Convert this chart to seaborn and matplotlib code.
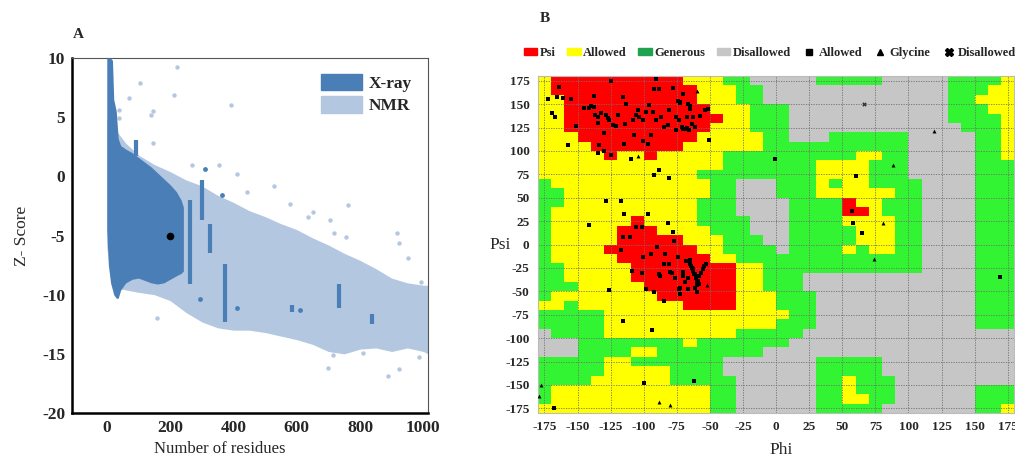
import numpy as np
import pandas as pd
import matplotlib
matplotlib.use("Agg")
import matplotlib.pyplot as plt
import seaborn as sns
from matplotlib.colors import ListedColormap
from matplotlib.patches import Patch
from matplotlib.lines import Line2D

# ---------------- Panel A data (ProSA Z-score plot) ----------------
xray_x = [0, 5, 12, 18, 22, 30, 36, 44, 60, 80, 100, 120, 140, 160, 180, 200, 220, 235, 242]
xray_upper = [10, 10, 10, 9.8, 6.5, 5.5, 3.2, 2.6, 2.3, 2.0, 1.6, 1.2, 0.8, 0.3, -0.2, -0.7, -1.3, -2.0, -2.6]
xray_lower = [-4.5, -7.5, -9.0, -9.6, -10.0, -10.3, -10.3, -9.6, -9.0, -8.7, -8.6, -8.8, -9.0, -9.1, -9.0, -8.7, -8.4, -8.2, -8.0]

nmr_x = [0, 10, 20, 40, 60, 100, 150, 200, 250, 300, 350, 400, 450, 500, 550, 600, 650,
         700, 750, 800, 850, 900, 950, 1000, 1015]
nmr_upper = [4.8, 4.8, 4.3, 3.5, 2.8, 1.8, 1.0, 0.4, -0.3, -0.8, -1.6, -2.2, -2.9, -3.4, -4.0,
             -4.5, -5.2, -5.8, -6.5, -7.1, -7.8, -8.6, -9.0, -9.2, -9.2]
nmr_lower = [-6.0, -8.0, -9.0, -9.5, -9.6, -9.8, -10.0, -10.5, -11.5, -12.3, -12.8, -13.0, -13.0,
             -13.2, -13.5, -13.8, -14.2, -14.8, -15.0, -14.6, -14.5, -14.8, -14.5, -14.8, -15.0]

streak_x = [91, 264, 300, 327, 372, 733, 838, 585]
streak_lo = [1.7, -9.1, -3.7, -6.5, -12.3, -11.1, -12.5, -11.5]
streak_hi = [3.1, -2.0, -0.3, -4.0, -7.4, -9.1, -11.6, -10.9]

xray_pts_x = [296, 410, 609, 311, 365]
xray_pts_z = [-10.4, -11.1, -11.3, 0.6, -1.6]

nmr_pts_x = [221, 104, 70, 212, 391, 147, 139, 39, 39, 146, 270, 354, 412, 443, 528, 578, 761,
             160, 887, 698, 716, 992, 953, 918, 923, 756, 719, 704, 636, 651, 988, 924, 808]
nmr_pts_z = [9.2, 7.9, 6.6, 6.9, 6.0, 5.5, 5.2, 5.6, 4.9, 2.85, 1.0, 1.0, 0.2, -1.3, -0.85, -2.3,
             -2.4, -12.0, -16.9, -16.2, -15.1, -8.9, -6.9, -4.8, -5.6, -5.1, -4.8, -3.7, -3.4,
             -3.0, -15.3, -16.3, -14.9]

model_x = [200]
model_z = [-5.0]

# ---------------- Panel B data (Ramachandran plot) ----------------
# 10-degree cells, rows from psi=180 (top) to psi=-180, columns phi=-180..180
# R = core, Y = allowed, G = generous, D = disallowed
rama_rows = [
    "YRRRRRRRRRRYYYGGDDDDDGGGGGDDDDDGGGGY",
    "YRRRRRRRRRRRYYYGGDDDDDDDDDDDDDDGGGYY",
    "YYRRRRRRRRRRYYYGGDDDDDDDDDDDDDDGGYYY",
    "YYRRRRRRRRRRRYYYGGGDDDDDDDDDDDDGGGYY",
    "YYRRRRRRRRRRRRYYGGGDDDDDDDDDDDDGGGGY",
    "YYRRRRRRRRRRRYYYGGGDDDDDDDDDDDDDGGGY",
    "YYYRRRRRRRRRYYYYYGGDDDGGGGGGDDDDDGGY",
    "YYYYRRRRRRRYYYYYYGGGGGGGGGGGDDDDDGGY",
    "YYYYYRYYRYYYYYGGGGGGGGGGYYGGDDDDDGGY",
    "YYYYYYYYYYYYYYGGGGGGGYYYYGGGDDDDDGGG",
    "YYYYYYYYYYYYGGGGGGGGGYYYYGGGDDDDDGGG",
    "GYYYYYYYYYYYYGGDDDGGGYGYYGGGGDDDDGGG",
    "GGYYYYYYYYYYYGGDDDGGGYYYYYYGGDDDDGGG",
    "GGYYYYYYYYYYGGGDDDDGGGGRYYGGGDDDDGGG",
    "GYYYYYYYYYYYGGGDDDDGGGGRRYGGGDDDDGGG",
    "GYYYYYYRYYYYGGGGDDDGGGGYYYYGGDDDDGGG",
    "GYYYYYRRRYYYYGGGDDDGGGGGYYYGGDDDDGGG",
    "GYYYYYRRRRRYYYGGGDDGGGGGYYYGGDDDDGGG",
    "GYYYYRRRRRRRYYGGGGDGGGGYGYYGGDDDDGGG",
    "GYYYYYRRRRRRRYYGGGGGGGGGGGGGGDDDDGGG",
    "GGYYYYYRRRRRRRRYYGGGGGGGGGGGGDDDDGGG",
    "GGYYYYYRRRRRRRRYYGGGDDDDDDDDDDDDDGGG",
    "GGGYYYYYRRRRRRRYYGGGDDDDDDDDDDDDDGGG",
    "GYYYYYYYYRRRRRRYYYGGGDDDDDDDDDDDDGGG",
    "YYGYYYYYYYYRRRRYYYGGGDDDDDDDDDDDDGGG",
    "GGGGGYYYYYYYYYYYYYYGGDDDDDDDDDDDDGGG",
    "GGGGGYYYYYYYYYYYYYGGGDDDDDDDDDDDDGGG",
    "DGGGGYYYYYYYYYYGGGGGDDDDDDDDDDDDDDDD",
    "DDDGGGGGGGGYGGGGGGGDDDDDDDDDDDDDDDDD",
    "DDDGGGGYYGGGGGGGGDDDDDDDDDDDDDDDDDDD",
    "GGGGGYYGGGGGGGDDDDDDDGGGGGDDDDDDDDDD",
    "GGGGGYYYYYGGGGDDDDDDDGGGGGDDDDDDDDDD",
    "GGGGYYYYYYGGGGGDDDDDDGGYGGGDDDDDDDDD",
    "GYYYYYYYYYYYYGGDDDDDDGGYGGGDDDDDDGGG",
    "GYYYYYYYYYYYYGGDDDDDDGGYYGGDDDDDDGGG",
    "YYYYYYYYYYYYYGGDDDDDDGGGGGDDDDDDDGGY",
]
region_codes = {"R": 0, "Y": 1, "G": 2, "D": 3}
region_colors = ["#ff0000", "#ffff00", "#33f433", "#c6c6c6"]

allowed_phi = [-172.5, -169.3, -167.0, -163.7, -165.7, -160.7, -154.9, -151.1, -157.4, -124.7,
               -137.3, -145.3, -141.6, -139.8, -137.3, -136.5, -134.8, -132.2, -128.5, -127.2,
               -125.9, -123.4, -120.9, -119.6, -134.8, -129.7, -133.5, -134.8, -129.7, -124.7,
               -115.4, -113.4, -113.9, -109.6, -107.1, -105.8, -104.5, -108.3, -103.3, -100.8,
               -98.2, -100.3, -97.0, -94.5, -90.7, -91.9, -88.2, -95.7, -93.2, -90.7,
               -86.9, -84.4, -81.9, -80.6, -78.1, -74.3, -75.6, -73.0, -70.5, -68.0,
               -65.5, -63.0, -65.0, -72.5, -115.1, -91.9, -88.7, -80.6, -128.5, -117.1,
               -115.1, -97.0, -141.1, -81.9, -78.1, -105.8, -101.3, -115.4, -110.1, -76.8,
               -70.5, -66.2, -65.0, -67.5, -63.7, -61.2, -57.4, -53.7, -51.1, -71.3,
               -67.5, -75.6, -50.4, -72.5,
               -117.1, -100.3, -94.5, -90.2, -83.6, -80.6, -84.9, -78.6, -73.8, -68.0,
               -65.0, -64.2, -63.0, -61.7, -60.5, -59.2, -57.9, -108.8, -101.3, -88.2,
               -87.7, -70.5, -98.2, -91.9, -84.4, -73.0, -72.5, -66.8, -126.4, -115.4,
               -93.7, -99.5, -61.7, -167.5,
               -67.5, -65.0, -63.7, -62.5, -61.2, -60.5, -59.9, -59.4, -61.2, -59.9,
               -57.9, -56.7, -55.4, -54.2, -52.9, -66.2, -68.8, -72.5, -70.5, -76.3, -80.1,
               -0.5, 60.5, 57.2, 57.9, 64.7, 169.3]
allowed_psi = [155.2, 140.9, 136.6, 168.8, 158.1, 156.3, 155.6, 126.9, 106.8, 175.3,
               159.1, 146.2, 145.5, 148.0, 147.3, 138.4, 136.6, 140.1, 138.4, 134.8,
               133.0, 127.6, 126.5, 138.4, 129.4, 119.4, 106.8, 98.2, 100.0, 95.3,
               157.3, 150.2, 128.7, 91.8, 116.8, 138.4, 143.7, 133.0, 136.6, 133.0,
               141.9, 110.8, 107.9, 116.8, 176.7, 165.9, 165.9, 149.1, 141.9, 133.0,
               136.6, 125.8, 127.6, 143.7, 167.0, 153.8, 136.6, 133.0, 124.0, 124.0,
               122.2, 136.6, 148.0, 151.6, 107.9, 73.8, 79.2, 71.3, 46.2, 46.2,
               32.6, 32.6, 21.1, 22.6, 12.9, 18.3, 18.3, 8.2, 8.6, 3.9,
               161.3, 150.5, 145.2, 136.2, 129.0, 125.4, 136.9, 143.4, 144.8, 125.4,
               124.7, 121.9, 111.8, 152.3,
               -6.0, -13.1, -9.9, -2.8, -10.6, -21.2, -21.2, -30.0, -13.1, -17.7,
               -17.0, -23.0, -26.5, -31.8, -35.3, -38.9, -42.4, -28.3, -30.0, -31.8,
               -33.6, -33.6, -47.7, -50.2, -60.1, -47.7, -53.0, -47.7, -48.4, -81.3,
               -90.8, -148.4, -145.9, -174.2,
               -17.7, -21.2, -25.4, -28.3, -31.8, -36.0, -39.6, -43.1, -46.6, -50.2,
               -33.6, -30.0, -26.5, -23.0, -20.5, -36.0, -39.6, -46.6, -29.0, -36.0, -29.0,
               91.4, 73.5, 35.8, 23.3, 12.5, -34.6]

glycine_phi = [-104.5, -59.9, -52.4, -177.6, -178.8, -88.7, -79.8, 119.4, 88.2, 81.1, 73.6]
glycine_psi = [94.3, 163.8, -43.1, -150.2, -161.8, -168.6, -171.4, 121.1, 84.9, 22.6, -15.2]

disallowed_phi = [66.5]
disallowed_psi = [149.8]

ticks_b = list(range(-175, 176, 25))

# ---------------- Figure ----------------
sns.set_style("white")
plt.rcParams["font.family"] = ["Liberation Serif", "DejaVu Serif"]
plt.rcParams["axes.unicode_minus"] = False

fig = plt.figure(figsize=(10.15, 4.59), dpi=100)

# ----- Panel A -----
axA = fig.add_axes([0.0709, 0.1002, 0.3508, 0.7734])
xray_c = "#4a7eb6"
nmr_c = "#b3c7e1"
axA.fill_between(nmr_x, nmr_lower, nmr_upper, color=nmr_c, lw=0, zorder=1)
sns.scatterplot(x=nmr_pts_x, y=nmr_pts_z, color=nmr_c, s=10, linewidth=0, ax=axA, zorder=2, legend=False)
axA.fill_between(xray_x, xray_lower, xray_upper, color=xray_c, lw=0, zorder=3)
axA.vlines(streak_x, streak_lo, streak_hi, color=xray_c, lw=3, zorder=3)
sns.scatterplot(x=xray_pts_x, y=xray_pts_z, color=xray_c, s=12, linewidth=0, ax=axA, zorder=4, legend=False)
sns.scatterplot(x=model_x, y=model_z, color="black", s=30, linewidth=0, ax=axA, zorder=5, legend=False)

axA.set_xlim(-110, 1015)
axA.set_ylim(-20, 10)
axA.set_xticks([0, 200, 400, 600, 800, 1000])
axA.set_yticks([10, 5, 0, -5, -10, -15, -20])
axA.tick_params(axis="both", labelsize=12.5, length=3, width=1.2, direction="out", pad=2)
for lab in axA.get_xticklabels() + axA.get_yticklabels():
    lab.set_fontweight("bold")
for side in ["left", "bottom"]:
    axA.spines[side].set_color("black")
    axA.spines[side].set_linewidth(1.8)
for side in ["top", "right"]:
    axA.spines[side].set_color("#555555")
    axA.spines[side].set_linewidth(0.8)
axA.set_xlabel("Number of residues", fontsize=12)
axA.xaxis.set_label_coords(0.415, -0.10)
axA.xaxis.label.set_va("center")
axA.set_ylabel("Z- Score", fontsize=12.5)
axA.yaxis.set_label_coords(-0.14, 0.5)
axA.yaxis.label.set_va("center")
axA.legend(handles=[Patch(color=xray_c, label="X-ray"), Patch(color=nmr_c, label="NMR")],
           loc="upper right", frameon=False, prop={"weight": "bold", "size": 12.5},
           handlelength=2.4, handleheight=1.1, labelspacing=0.25, handletextpad=0.4,
           borderaxespad=0.5)
fig.text(0.072, 0.925, "A", fontsize=11, fontweight="bold", ha="left", va="center")

# ----- Panel B -----
axB = fig.add_axes([0.5299, 0.1002, 0.4695, 0.734])
grid = np.array([[region_codes[c] for c in row] for row in rama_rows[::-1]])
edges = np.arange(-180, 181, 10)
axB.pcolormesh(edges, edges, grid, cmap=ListedColormap(region_colors), vmin=-0.5, vmax=3.5,
               shading="flat", zorder=0)
for t in ticks_b:
    axB.axvline(t, color="#707070", lw=0.6, ls=(0, (1.5, 1.5)), zorder=1)
    axB.axhline(t, color="#707070", lw=0.6, ls=(0, (1.5, 1.5)), zorder=1)

pts = pd.DataFrame({
    "phi": allowed_phi + glycine_phi + disallowed_phi,
    "psi": allowed_psi + glycine_psi + disallowed_psi,
    "kind": ["Allowed"] * len(allowed_phi) + ["Glycine"] * len(glycine_phi)
            + ["Disallowed"] * len(disallowed_phi),
})
sns.scatterplot(data=pts[pts.kind == "Allowed"], x="phi", y="psi", marker="s", color="black",
                s=10, linewidth=0, ax=axB, zorder=3, legend=False)
sns.scatterplot(data=pts[pts.kind == "Glycine"], x="phi", y="psi", marker="^", color="black",
                s=8, linewidth=0, ax=axB, zorder=3, legend=False)
sns.scatterplot(data=pts[pts.kind == "Disallowed"], x="phi", y="psi", marker="X", color="#333333",
                s=10, linewidth=0, ax=axB, zorder=3, legend=False)

axB.set_xlim(-180, 180)
axB.set_ylim(-180, 180)
axB.set_xticks(ticks_b)
axB.set_yticks(ticks_b)
axB.tick_params(axis="both", labelsize=9.5, length=0, pad=6)
for lab in axB.get_xticklabels() + axB.get_yticklabels():
    lab.set_fontweight("bold")
for sp in axB.spines.values():
    sp.set_color("#bbbbbb")
    sp.set_linewidth(0.8)
axB.set_xlabel("Phi", fontsize=12.5)
axB.xaxis.set_label_coords(0.51, -0.11)
axB.xaxis.label.set_va("center")
axB.set_ylabel("Psi", fontsize=12.5, rotation=0)
axB.yaxis.set_label_coords(-0.079, 0.5)
axB.yaxis.label.set_va("center")

leg_handles = [
    Patch(color="#ff0000", label="Psi"),
    Patch(color="#ffff00", label="Allowed"),
    Patch(color="#1fa34f", label="Generous"),
    Patch(color="#c6c6c6", label="Disallowed"),
    Line2D([], [], ls="none", marker="s", color="black", markersize=5, label="Allowed"),
    Line2D([], [], ls="none", marker="^", color="black", markersize=5, label="Glycine"),
    Line2D([], [], ls="none", marker="X", color="black", markersize=6, label="Disallowed"),
]
axB.legend(handles=leg_handles, loc="center", bbox_to_anchor=(0.487, 1.07), ncol=7,
           frameon=False, prop={"weight": "bold", "size": 9}, handlelength=1.1,
           handleheight=0.5, handletextpad=0.2, columnspacing=0.9, borderaxespad=0)
fig.text(0.532, 0.96, "B", fontsize=11, fontweight="bold", ha="left", va="center")

fig.savefig("out.png", dpi=100)
